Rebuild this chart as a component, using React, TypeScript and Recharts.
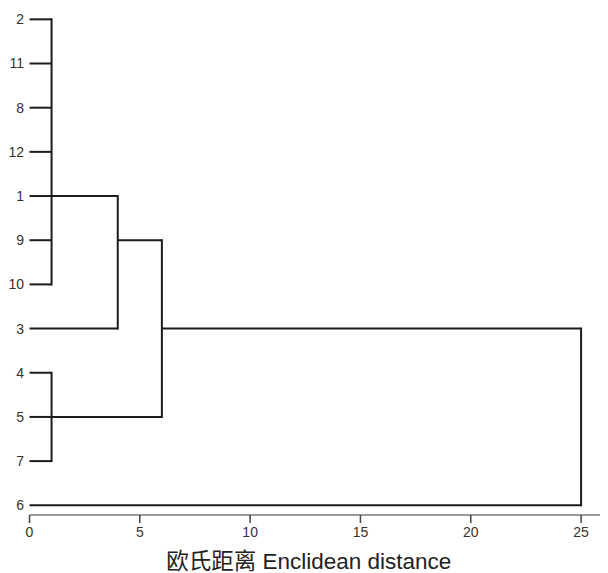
import { LineChart, Line, XAxis, YAxis } from "recharts";

// leaves top to bottom, as printed on the y axis
const leafLabels = ["2", "11", "8", "12", "1", "9", "10", "3", "4", "5", "7", "6"];

// agglomeration steps: members (leaves or earlier clusters), joining distance,
// and the leaf row the merged branch continues from
const clusterIds = ["A", "B", "C", "D", "E"];
const clusterMembers = [
  ["2", "11", "8", "12", "1", "9", "10"],
  ["A", "3"],
  ["4", "5", "7"],
  ["B", "C"],
  ["D", "6"],
];
const joinDistance = [1, 4, 1, 6, 25];
const exitLeaf = ["1", "9", "5", "3", "3"];

const xTicks = [0, 5, 10, 15, 20, 25];
const axisTitle = "欧氏距离 Enclidean distance";

const FONT = '"Liberation Sans", Arial, "Noto Sans CJK SC", sans-serif';

type Pt = { x: number; y: number };
type Seg = { key: string; vertical: boolean; pts: Pt[] };

function buildSegments(): Seg[] {
  const rowOf: Record<string, number> = {};
  const distOf: Record<string, number> = {};
  leafLabels.forEach((l, i) => {
    rowOf[l] = i;
    distOf[l] = 0;
  });
  const segs: Seg[] = [];
  clusterIds.forEach((id, c) => {
    const d = joinDistance[c];
    const rows = clusterMembers[c].map((m) => rowOf[m]);
    clusterMembers[c].forEach((m) => {
      segs.push({
        key: `${id}-${m}`,
        vertical: false,
        pts: [
          { x: distOf[m], y: rowOf[m] },
          { x: d, y: rowOf[m] },
        ],
      });
    });
    segs.push({
      key: `${id}-v`,
      vertical: true,
      pts: [
        { x: d, y: Math.min(...rows) },
        { x: d, y: Math.max(...rows) },
      ],
    });
    rowOf[id] = rowOf[exitLeaf[c]];
    distOf[id] = d;
  });
  return segs;
}

const segments = buildSegments();

export default function App() {
  return (
    <div style={{ width: 600, height: 565, fontFamily: FONT }}>
      <LineChart
        width={600}
        height={565}
        margin={{ top: 2.5, right: 0, bottom: 0, left: 0 }}
      >
        <XAxis
          type="number"
          dataKey="x"
          domain={[0, 26.22]}
          ticks={xTicks}
          interval={0}
          height={58}
          axisLine={{ stroke: "#7a7a7a", strokeWidth: 1.5 }}
          tickLine={{ stroke: "#444", strokeWidth: 1.5 }}
          tickSize={8}
          tickMargin={4}
          tick={{ fill: "#333", fontSize: 14, fontFamily: FONT }}
          label={{
            content: (props: any) => {
              const vb = props.viewBox || { x: 21.5, y: 507, width: 578.5, height: 58 };
              return (
                <text
                  x={vb.x + vb.width / 2 - 10}
                  y={vb.y + vb.height - 4}
                  textAnchor="middle"
                  fontSize={22.5}
                  fill="#222"
                  fontFamily={FONT}
                >
                  {axisTitle}
                </text>
              );
            },
          }}
        />
        <YAxis
          type="number"
          dataKey="y"
          domain={[-0.2, 11.22]}
          reversed
          ticks={leafLabels.map((_, i) => i)}
          interval={0}
          width={21.5}
          axisLine={false}
          tickLine={false}
          tickSize={0}
          tickMargin={5.5}
          tickFormatter={(v: number) => leafLabels[v] ?? ""}
          tick={{ fill: "#333", fontSize: 14, fontFamily: FONT }}
        />
        {segments.map((s) => (
          <Line
            key={s.key}
            data={s.pts}
            dataKey="y"
            type="linear"
            stroke="#1c1c1c"
            strokeWidth={2}
            strokeLinecap={s.vertical ? "square" : "butt"}
            dot={false}
            activeDot={false}
            isAnimationActive={false}
          />
        ))}
      </LineChart>
    </div>
  );
}
